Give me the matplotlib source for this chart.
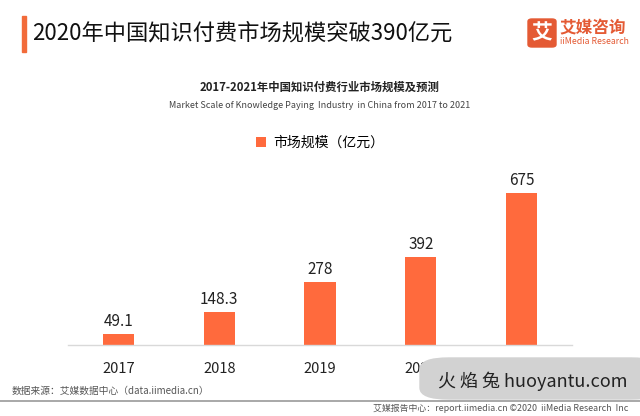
import matplotlib.pyplot as plt
from matplotlib.patches import FancyBboxPatch, Rectangle

plt.rcParams['font.family'] = ['Noto Sans CJK SC', 'DejaVu Sans']

years = ['2017', '2018', '2019', '2020', '2021']
values = [49.1, 148.3, 278, 392, 675]
value_labels = ['49.1', '148.3', '278', '392', '675']

orange = '#FF6A3D'
W, H = 640, 416

fig = plt.figure(figsize=(6.4, 4.16), dpi=100)

def fx(px):
    return px / W

def fy(py):
    return 1 - py / H

# header
fig.patches.append(Rectangle((fx(22), fy(52)), fx(4), 36 / H, transform=fig.transFigure,
                             color='#F26B3A', zorder=5))
fig.text(fx(32), fy(33), '2020年中国知识付费市场规模突破390亿元', fontsize=16,
         color='#111111', va='center', ha='left')

# logo
fig.patches.append(FancyBboxPatch((fx(528), fy(47)), fx(28), 28 / H,
                                  boxstyle='round,pad=0,rounding_size=0.006',
                                  transform=fig.transFigure, color='#E45A34', zorder=5))
fig.text(fx(542), fy(33), '艾', fontsize=15, color='white', ha='center', va='center',
         fontweight='bold', zorder=6)
fig.text(fx(559), fy(28.5), '艾媒咨询', fontsize=12, color='#E45A34', ha='left', va='center',
         fontweight='bold')
fig.text(fx(560), fy(42), 'iiMedia Research', fontsize=6.3, color='#E45A34', ha='left',
         va='center')

# chart titles
fig.text(0.5, fy(87), '2017-2021年中国知识付费行业市场规模及预测', fontsize=8.2,
         fontweight='bold', color='#222222', ha='center', va='center')
fig.text(0.5, fy(106), 'Market Scale of Knowledge Paying  Industry  in China from 2017 to 2021',
         fontsize=6.5, color='#444444', ha='center', va='center')

# axes
ax = fig.add_axes([fx(68), fy(345), fx(504), 157.5 / H])
ax.bar(range(len(years)), values, width=0.31, color=orange, label='市场规模（亿元）')
for i, v in enumerate(values):
    ax.text(i, v + 18, value_labels[i], ha='center', va='bottom', fontsize=11, color='#222222')
ax.set_xlim(-0.5, 4.5)
ax.set_ylim(0, 700)
ax.set_xticks(range(len(years)))
ax.set_xticklabels(years, fontsize=10.5, color='#222222')
ax.tick_params(axis='x', length=0, pad=12)
ax.set_yticks([])
for s in ['top', 'right', 'left']:
    ax.spines[s].set_visible(False)
ax.spines['bottom'].set_color('#D9D9D9')
ax.spines['bottom'].set_linewidth(1)

ax.legend(loc='center', bbox_to_anchor=(0.5, (fy(143) - fy(345)) / (157.5 / H)),
          frameon=False, fontsize=10, handlelength=0.7, handleheight=0.7,
          handletextpad=0.5)

# footer
fig.text(fx(12), fy(391), '数据来源：艾媒数据中心（data.iimedia.cn）', fontsize=7,
         color='#555555', ha='left', va='center')
fig.add_artist(plt.Line2D([0, 1], [fy(400.5), fy(400.5)], transform=fig.transFigure,
                          color='#9A9A9A', linewidth=1.2))
fig.text(fx(628), fy(408.5), '艾媒报告中心：report.iimedia.cn ©2020  iiMedia Research  Inc',
         fontsize=6.4, color='#555555', ha='right', va='center')

# watermark
fig.patches.append(FancyBboxPatch((fx(420), fy(399)), fx(240), 41 / H,
                                  boxstyle='round,pad=0,rounding_size=0.045',
                                  transform=fig.transFigure, color='#D2D2D2', zorder=8,
                                  mutation_aspect=0.6))
fig.text(fx(628), fy(381), '火 焰 兔 huoyantu.com', fontsize=13, color='#222222',
         ha='right', va='center', zorder=9)

fig.savefig('out.png', dpi=100)
